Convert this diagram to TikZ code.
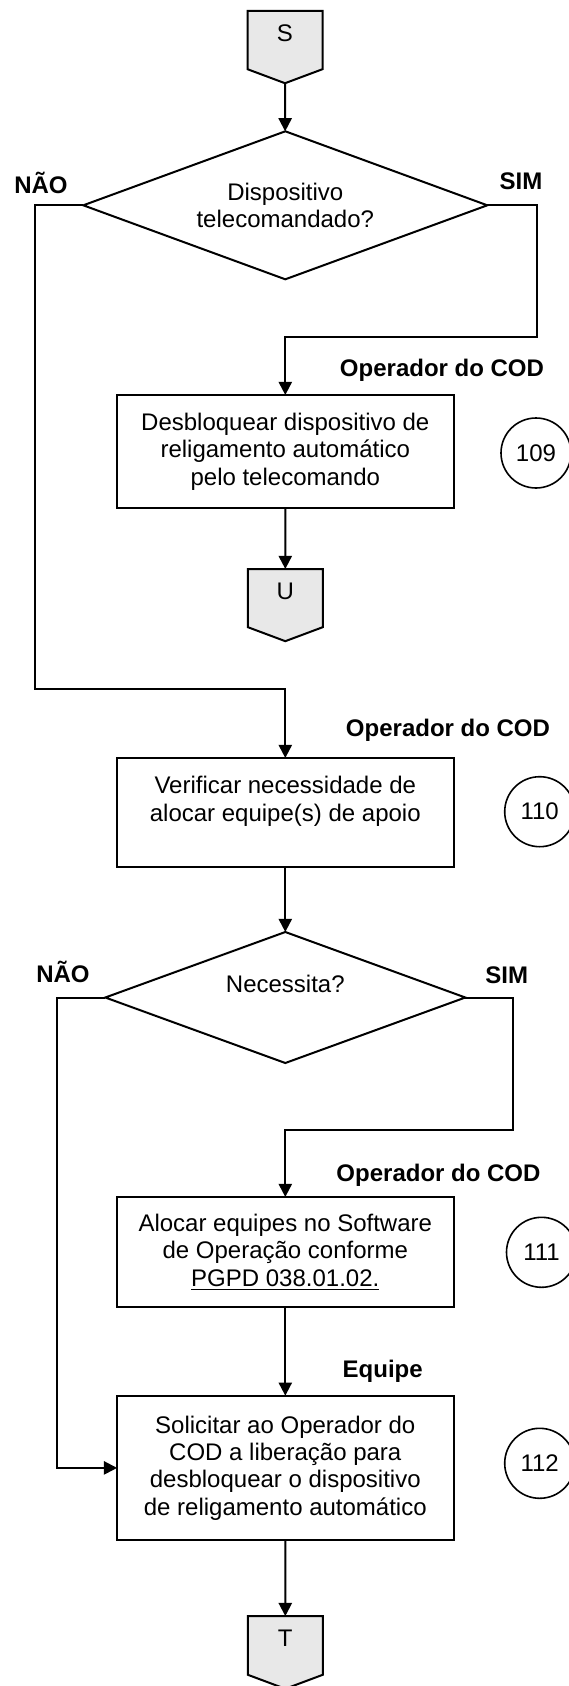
\documentclass[tikz,border=0pt]{standalone}
\usepackage{fontspec}
\setmainfont{Liberation Sans}
\usepackage{xcolor}
\usepackage{tikz}
\usetikzlibrary{positioning,shapes,shapes.symbols,arrows,arrows.meta}
\definecolor{pagegray}{RGB}{232,232,232}
\tikzstyle{pr}=[%
      rectangle, draw=black, line width=1pt, fill=white,
      minimum width=168.2pt, inner sep=0pt, outer sep=0pt, align=center
]
\tikzstyle{dc}=[%
      diamond, draw=black, line width=1pt, fill=white,
      inner sep=0pt, outer sep=0pt, align=center
]
\tikzstyle{op}=[%
      signal, signal to=south, signal from=nowhere, signal pointer angle=139,
      draw=black, line width=1pt, fill=pagegray,
      minimum width=37.5pt, minimum height=30.7pt, inner sep=0pt, outer sep=0pt, text depth=7pt
]
\tikzstyle{nm}=[%
      circle, draw=black, line width=0.8pt, minimum size=35pt, inner sep=0pt
]
\tikzstyle{rl}=[font=\fontsize{12}{13.65}\selectfont\bfseries]

\begin{document}
\begin{tikzpicture}[x=0.5pt, y=-0.5pt,
    font=\fontsize{12}{13.65}\selectfont,
    line width=1pt,
    >={Triangle[length=6.6pt,width=6.6pt]}
  ]
    \useasboundingbox (0,0) rectangle (568,1686);

    \node[op] (s) at (285,40) {S};
    \node[dc, aspect=2.73, minimum width=202pt, minimum height=74pt] (q1) at (285.3,205.3) {Dispositivo\\telecomandado?};
    \node[pr, minimum height=56.5pt] (a109) [below=57.85pt of q1] {Desbloquear dispositivo de\\religamento automático\\pelo telecomando};
    \node[op] (u) [below=30.5pt of a109] {U};
    \node[pr, minimum height=54.5pt] (a110) [below=125pt of a109] {Verificar necessidade de\\alocar equipe(s) de apoio\\ \mbox{}};
    \node[dc, aspect=2.75, minimum width=180pt, minimum height=65.5pt] (q2) [below=32.5pt of a110] {Necessita?\\ \mbox{}};
    \node[pr, minimum height=55.2pt] (a111) [below=67pt of q2] {Alocar equipes no Software\\de Operação conforme\\\underline{PGPD 038.01.02.}};
    \node[pr, minimum height=72.2pt] (a112) [below=44.15pt of a111] {Solicitar ao Operador do\\COD a liberação para\\desbloquear o dispositivo\\de religamento automático};
    \node[op] (t) [below=38pt of a112] {T};

    % numeros das atividades
    \node[nm] (n109) at (536,453) {109};
    \node[nm] (n110) at (539.7,811.7) {110};
    \node[nm] (n111) at (541.5,1252.3) {111};
    \node[nm] (n112) at (539.7,1463.3) {112};

    % responsaveis
    \node[rl] (r109) at (442,370) {Operador do COD};
    \node[rl] (r110) at (448,730) {Operador do COD};
    \node[rl] (r111) at (438.5,1175) {Operador do COD};
    \node[rl] (r112) at (382.7,1371.7) {Equipe};

    % respostas
    \node[rl] (nao1) at (41,182.7) {NÃO};
    \node[rl] (sim1) at (521,181.7) {SIM};
    \node[rl] (nao2) at (63,971.7) {NÃO};
    \node[rl] (sim2) at (506.7,975) {SIM};

    \path (a109.north) ++(0,-57.7) coordinate (c1);
    \path (a110.north) ++(0,-69.3) coordinate (c2);
    \path (a111.north) ++(0,-66.6) coordinate (c3);

    \draw[->] (s) -- (q1);
    \draw[->] (q1.east) -- ++(49.8,0) |- (c1) -- (a109);
    \draw[->] (a109) -- (u);
    \draw[->] (q1.west) -- ++(-48.3,0) |- (c2) -- (a110);
    \draw[->] (a110) -- (q2);
    \draw[->] (q2.east) -- ++(47.8,0) |- (c3) -- (a111);
    \draw[->] (q2.west) -- ++(-47.9,0) |- (a112.west);
    \draw[->] (a111) -- (a112);
    \draw[->] (a112) -- (t);
  \end{tikzpicture}
\end{document}
